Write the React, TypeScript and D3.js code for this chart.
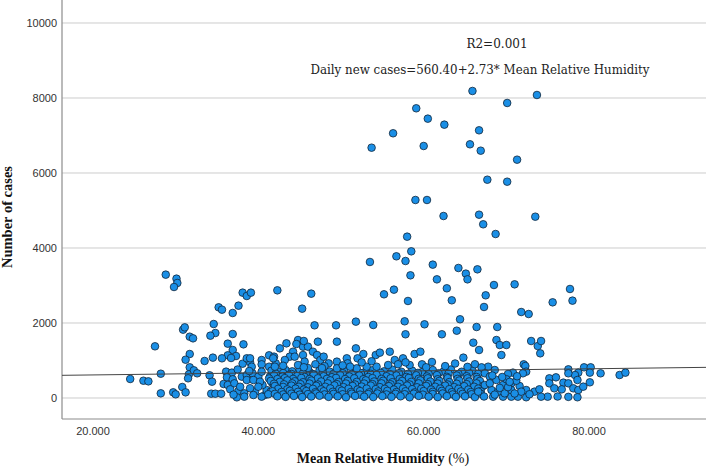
import * as d3 from 'd3';

const W = 706;
const H = 468;

// regression from the chart annotation
const intercept = 560.4;
const slope = 2.73;
const r2Label = 'R2=0.001';
const equationLabel = 'Daily new cases=560.40+2.73* Mean Relative Humidity';

const xTicks = [20, 40, 60, 80];
const yTicks = [0, 2000, 4000, 6000, 8000, 10000];

// [mean relative humidity, daily new cases]
const highOutliers: [number, number][] = [
  [65.9, 8187], [73.7, 8080], [70.1, 7867], [59.1, 7725], [60.5, 7449], [62.5, 7289],
  [66.7, 7138], [56.3, 7059], [60.0, 6720], [65.6, 6765], [53.7, 6675], [66.9, 6595],
  [71.3, 6355], [67.7, 5821], [70.1, 5768], [59.0, 5280], [60.4, 5280], [62.4, 4853],
  [66.7, 4888], [73.5, 4835], [67.2, 4632], [68.7, 4373], [58.0, 4302],
];

const midPoints: [number, number][] = [
  [53.5, 3627], [56.7, 3778], [57.8, 3653], [58.5, 3911], [58.4, 3271], [61.1, 3556],
  [61.6, 3164], [64.2, 3467], [65.1, 3316], [65.3, 3164], [66.5, 3431], [68.5, 3013],
  [71.0, 3031], [77.7, 2907], [78.0, 2596], [75.6, 2551], [72.7, 2240], [71.8, 2293],
  [67.3, 2427], [67.5, 2738], [62.8, 2925], [63.4, 2605], [58.1, 2587], [56.4, 2889],
  [55.2, 2765], [53.9, 1947], [57.7, 2045], [60.1, 1965], [64.4, 2099], [64.0, 1795],
  [66.4, 1893], [68.9, 1893], [57.8, 1699], [62.2, 1699],
  [28.8, 3289], [30.1, 3182], [30.2, 3067], [29.8, 2960], [38.1, 2809], [38.6, 2720],
  [39.1, 2809], [42.3, 2871], [46.4, 2782], [45.3, 2382], [35.2, 2418], [35.6, 2355],
  [37.6, 2462], [36.9, 2267], [34.6, 1973], [34.8, 1733], [34.2, 1662], [36.9, 1707],
  [30.9, 1822], [31.1, 1884], [31.7, 1635], [32.1, 1591], [46.8, 1938], [49.4, 1938],
  [51.8, 2036], [66.0, 1475], [68.8, 1546], [69.2, 1413], [70.0, 1413], [73.0, 1520],
  [74.2, 1520], [44.8, 1546], [45.5, 1520], [44.6, 1440], [43.4, 1457], [49.5, 1502],
  [47.2, 1502], [36.3, 1449], [38.2, 1431],
];

const leftCluster: [number, number][] = [
  [27.5, 1378], [24.5, 507], [26.1, 461], [26.7, 444], [28.2, 648], [28.2, 124],
  [29.7, 151], [30.0, 98], [30.8, 293], [31.2, 151], [31.7, 1173], [31.2, 1021],
  [31.7, 818], [31.6, 632], [31.5, 525], [32.2, 738], [32.6, 658], [33.5, 987],
  [34.5, 1076], [36.9, 1280], [36.3, 1138], [37.3, 1120], [35.6, 1058], [36.7, 1067],
  [38.1, 915], [39.0, 951], [38.6, 1058], [39.0, 1058], [40.4, 1013], [41.3, 1138],
  [41.9, 1102], [40.4, 898], [34.1, 605], [34.4, 435], [34.3, 115], [34.8, 115],
  [35.5, 115], [36.1, 702], [36.8, 676], [36.2, 551], [36.9, 498], [35.8, 373],
  [36.3, 347], [37.1, 391], [36.6, 231], [37.6, 187], [37.4, 18], [38.3, 124],
  [38.3, 36], [39.6, 169], [40.8, 80], [41.0, 213], [41.5, 169], [40.5, 347],
  [41.7, 391], [42.3, 435], [38.0, 569], [38.6, 613], [39.3, 658], [40.0, 569],
  [40.4, 702], [41.3, 835], [42.1, 924], [39.2, 835], [38.6, 480], [39.4, 480],
  [41.4, 569], [42.1, 658], [40.2, 435], [40.4, 36], [39.4, 80],
  [37.5, 760], [38.9, 720], [37.8, 300], [39.0, 260], [40.0, 300], [37.0, 90],
];

const upperBand: [number, number][] = [
  [42.6, 1324], [44.2, 1235], [45.4, 1369], [46.0, 1369], [46.6, 1235], [43.8, 1102],
  [44.4, 1102], [43.2, 1013], [41.8, 1058], [42.0, 835], [45.4, 1146], [45.6, 969],
  [47.1, 1146], [47.5, 1013], [47.9, 1102], [48.5, 924], [49.5, 969], [50.7, 1058],
  [50.8, 924], [51.8, 1324], [52.7, 1173], [52.0, 1058], [54.2, 1146], [54.7, 1209],
  [55.9, 1235], [56.5, 1013], [57.5, 1058], [58.9, 1173], [59.6, 1235], [58.3, 880],
  [59.8, 898], [55.7, 880], [54.3, 835], [53.1, 835], [51.9, 791], [49.5, 791],
  [51.1, 835], [64.8, 1076], [66.7, 1280], [43.0, 860], [46.0, 800], [48.0, 850],
  [44.8, 880], [46.9, 900], [50.2, 870], [52.5, 950], [53.7, 980], [56.9, 900],
  [57.8, 950], [60.3, 820], [61.0, 960], [62.6, 850], [63.8, 920], [65.3, 830],
  [66.2, 900], [45.5, 820], [47.7, 800],
];

const denseBand: [number, number][] = [
  [41.6, 730], [42.5, 700], [43.3, 745], [44.1, 710], [45.0, 760], [46.2, 690],
  [47.4, 735], [48.6, 705], [49.6, 760], [50.4, 715], [51.8, 745], [52.9, 690],
  [53.8, 740], [55.2, 710], [56.2, 755], [57.3, 700], [58.6, 730], [59.8, 690],
  [61.1, 745], [62.4, 705], [63.3, 760], [64.6, 700], [65.9, 735], [67.1, 700],
  [42.1, 650], [43.0, 665], [44.0, 640], [45.4, 655], [46.6, 640], [47.8, 670],
  [49.1, 645], [50.2, 660], [51.3, 635], [52.4, 665], [53.6, 645], [54.8, 670],
  [55.9, 640], [57.0, 660], [58.1, 645], [59.3, 670], [60.6, 640], [61.8, 660],
  [63.0, 650], [64.2, 640], [65.5, 665], [66.6, 645],
  [41.9, 600], [42.9, 570], [43.7, 615], [44.7, 585], [45.6, 560], [46.7, 620],
  [47.9, 580], [48.9, 555], [49.9, 610], [51.0, 575], [52.2, 600], [53.3, 560],
  [54.3, 615], [55.5, 580], [56.7, 600], [57.9, 560], [59.1, 605], [60.4, 575],
  [61.6, 610], [62.8, 565], [64.0, 600], [65.2, 580], [66.4, 560],
  [41.3, 520], [42.3, 505], [43.2, 530], [44.2, 510], [45.2, 535], [46.2, 505],
  [47.2, 525], [48.3, 510], [49.4, 535], [50.5, 505], [51.6, 525], [52.7, 500],
  [53.8, 530], [54.9, 510], [56.0, 525], [57.1, 505], [58.2, 535], [59.4, 510],
  [60.5, 525], [61.7, 500], [62.9, 530], [64.1, 510], [65.3, 525], [66.5, 505],
  [41.5, 455], [42.6, 430], [43.5, 470], [44.4, 445], [45.4, 420], [46.4, 465],
  [47.6, 440], [48.7, 470], [49.7, 425], [50.8, 455], [51.9, 430], [53.0, 470],
  [54.0, 440], [55.1, 460], [56.2, 420], [57.4, 455], [58.5, 430], [59.6, 470],
  [60.8, 440], [61.9, 455], [63.1, 425], [64.3, 465], [65.5, 440], [66.8, 455],
  [41.9, 380], [43.1, 365], [44.1, 390], [45.1, 370], [46.2, 385], [47.2, 360],
  [48.4, 390], [49.5, 370], [50.6, 385], [51.7, 360], [52.8, 385], [53.8, 370],
  [54.9, 390], [56.0, 365], [57.1, 380], [58.3, 360], [59.4, 390], [60.5, 370],
  [61.7, 385], [62.9, 360], [64.0, 380], [65.2, 370], [66.4, 390],
  [42.0, 320], [43.0, 295], [44.0, 330], [44.9, 300], [46.0, 285], [47.0, 325],
  [48.1, 300], [49.2, 335], [50.3, 290], [51.4, 320], [52.5, 305], [53.6, 330],
  [54.7, 290], [55.8, 315], [56.9, 300], [58.0, 330], [59.2, 285], [60.3, 320],
  [61.4, 300], [62.6, 330], [63.7, 290], [64.9, 315], [66.1, 300], [67.2, 320],
  [42.4, 245], [43.5, 230], [44.5, 250], [45.5, 225], [46.6, 245], [47.6, 230],
  [48.7, 255], [49.8, 235], [50.9, 245], [52.0, 225], [53.1, 250], [54.2, 235],
  [55.3, 245], [56.4, 225], [57.5, 250], [58.6, 235], [59.7, 245], [60.9, 225],
  [62.0, 250], [63.1, 235], [64.2, 245], [65.4, 225], [66.6, 250],
  [41.7, 180], [42.8, 160], [43.8, 190], [44.8, 165], [45.8, 185], [46.9, 155],
  [47.9, 180], [49.0, 165], [50.1, 195], [51.2, 160], [52.3, 185], [53.4, 150],
  [54.5, 175], [55.6, 190], [56.7, 160], [57.8, 180], [58.9, 150], [60.0, 185],
  [61.1, 165], [62.2, 190], [63.4, 155], [64.5, 175], [65.7, 160], [66.9, 185],
  [41.2, 100], [42.0, 110], [43.0, 95], [44.0, 115], [45.0, 90], [46.0, 105],
  [47.0, 120], [48.0, 95], [49.1, 110], [50.2, 100], [51.3, 115], [52.3, 90],
  [53.3, 105], [54.4, 120], [55.5, 95], [56.6, 110], [57.7, 100], [58.8, 115],
  [59.9, 90], [61.1, 105], [62.3, 120], [63.5, 95], [64.7, 110], [65.8, 100],
  [66.9, 115],
  [42.3, 45], [43.3, 30], [44.3, 55], [45.3, 25], [46.4, 40], [47.4, 60],
  [48.5, 30], [49.6, 45], [50.6, 20], [51.7, 55], [52.8, 35], [53.9, 25],
  [55.0, 50], [56.1, 30], [57.2, 45], [58.3, 20], [59.4, 55], [60.6, 35],
  [61.7, 25], [62.8, 50], [63.9, 30], [65.0, 45], [66.2, 25], [67.3, 40],
];

const rightCluster: [number, number][] = [
  [69.4, 1146], [73.8, 1386], [74.1, 1191], [72.1, 898], [72.3, 853], [72.4, 702],
  [72.0, 658], [70.8, 676], [70.2, 640], [68.6, 746], [67.8, 835], [67.0, 818],
  [67.4, 658], [68.0, 569], [77.5, 764], [78.7, 676], [78.3, 613], [79.4, 818],
  [80.2, 818], [80.1, 676], [81.4, 658], [83.7, 613], [84.4, 676], [80.1, 418],
  [78.6, 480], [77.5, 658], [75.2, 524], [76.0, 551], [75.2, 391], [75.8, 258],
  [76.9, 409], [77.5, 391], [76.7, 231], [78.1, 258], [78.7, 213], [79.3, 302],
  [78.6, 20], [77.5, 30], [76.2, 40], [75.0, 35], [74.2, 35], [73.4, 169],
  [74.0, 231], [72.4, 213], [72.4, 20], [71.4, 35], [70.6, 35], [69.6, 35],
  [68.4, 35], [66.6, 169], [68.2, 213], [69.6, 347], [70.6, 391], [71.6, 320],
  [70.6, 213], [69.0, 169], [67.4, 347], [68.0, 391], [69.8, 124], [71.8, 169],
  [68.8, 480], [70.0, 500], [71.2, 460], [69.2, 270], [70.2, 290], [71.0, 120],
  [72.8, 100], [68.6, 90], [68.3, 600], [69.5, 560], [71.3, 580], [70.4, 430],
];

const allPoints = [
  ...leftCluster, ...denseBand, ...upperBand, ...rightCluster, ...midPoints, ...highOutliers,
];

export default function App() {
  const left = 62;
  const bottom = 419;

  const x = d3.scaleLinear().domain([16.25, 94.15]).range([left, W]);
  const y = d3.scaleLinear().domain([-560, 10613]).range([bottom, 0]);

  const fit = (h: number) => intercept + slope * h;
  const [x0, x1] = x.domain();
  const fitLine = d3.line<number>().x(d => x(d)).y(d => y(fit(d)))([x0, x1]);

  const tickFont = '"Liberation Sans", Arial, sans-serif';
  const serif = '"Liberation Serif", "Times New Roman", serif';

  return (
    <div style={{ position: 'fixed', left: 0, top: 0 }}>
      <svg width={W} height={H} style={{ display: 'block', background: '#fff' }}>
        {/* gridlines */}
        {yTicks.map(t => (
          <line key={t} x1={left} x2={W} y1={y(t)} y2={y(t)} stroke="#cccccc" strokeWidth={1} />
        ))}

        {/* axes */}
        <line x1={left} x2={left} y1={0} y2={bottom} stroke="#8c8c8c" strokeWidth={1.2} />
        <line x1={left} x2={W} y1={bottom} y2={bottom} stroke="#8c8c8c" strokeWidth={1.2} />

        {yTicks.map(t => (
          <text key={t} x={57} y={y(t)} dy="0.35em" textAnchor="end" fontSize={11}
            fontFamily={tickFont} fill="#333">{t}</text>
        ))}
        {xTicks.map(t => (
          <text key={t} x={x(t)} y={435} textAnchor="middle" fontSize={11}
            fontFamily={tickFont} fill="#333">{d3.format('.3f')(t)}</text>
        ))}

        {/* points */}
        {allPoints.map(([h, c], i) => (
          <circle key={i} cx={x(h)} cy={y(c)} r={3.8} fill="#1a8fe6" stroke="#12263a" strokeWidth={0.8} />
        ))}

        {/* fit line */}
        <path d={fitLine ?? ''} fill="none" stroke="#444" strokeWidth={1} />

        {/* annotation */}
        <text x={497} y={48} textAnchor="middle" fontSize={12} fontFamily='"DejaVu Serif", serif' fill="#222">
          {r2Label}
        </text>
        <text x={480} y={74} textAnchor="middle" fontSize={12} fontFamily='"DejaVu Serif", serif' fill="#222"
          textLength={339} lengthAdjust="spacingAndGlyphs">
          {equationLabel}
        </text>

        {/* axis titles */}
        <text transform={`translate(12,${217}) rotate(-90)`} textAnchor="middle" fontSize={14.5}
          fontWeight="bold" fontFamily={serif} fill="#111">Number of cases</text>
        <text x={383} y={463} textAnchor="middle" fontSize={14} fontFamily={serif} fill="#111">
          <tspan fontWeight="bold">Mean Relative Humidity</tspan>
          <tspan> (%)</tspan>
        </text>
      </svg>
    </div>
  );
}
